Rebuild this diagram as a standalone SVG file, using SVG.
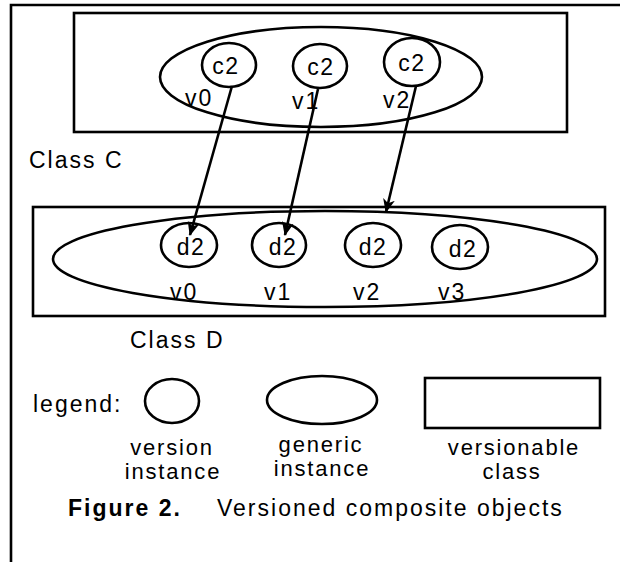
<svg xmlns="http://www.w3.org/2000/svg" width="620" height="562" viewBox="0 0 620 562">
  <style>
    .ln { fill: none; stroke: #000; stroke-width: 2.6; }
    text { font-family: "Liberation Sans", Arial, Helvetica, sans-serif; font-size: 23px; fill: #000; letter-spacing: 2px; }
    .in { text-anchor: middle; letter-spacing: 1.5px; }
    .key { text-anchor: middle; font-size: 22px; letter-spacing: 1.8px; }
    .conn { fill: none; stroke: #000; stroke-width: 2.6; marker-end: url(#head); }
  </style>
  <defs>
    <marker id="head" viewBox="0 0 14 12" refX="13" refY="6" markerWidth="14" markerHeight="12" markerUnits="userSpaceOnUse" orient="auto">
      <path d="M0,0 L14,6 L0,12 L4,6 Z" fill="#000"/>
    </marker>
  </defs>
  <rect width="620" height="562" fill="#fff"/>

  <!-- page frame (left and top edges) -->
  <path class="ln" d="M11,562 L11,5 L620,5"/>

  <!-- Class C: versionable class with generic instance and three versions -->
  <g id="classC">
    <rect class="ln" x="74" y="13" width="493" height="119"/>
    <ellipse class="ln" cx="321" cy="77" rx="161" ry="50"/>
    <text x="29" y="168">Class C</text>
  </g>
  <g id="c2v0">
    <ellipse class="ln" cx="229" cy="65" rx="27" ry="22"/>
    <text class="in" x="226" y="74">c2</text>
    <text x="185" y="106">v0</text>
  </g>
  <g id="c2v1">
    <ellipse class="ln" cx="320" cy="66" rx="27" ry="22"/>
    <text class="in" x="321" y="75">c2</text>
    <text x="292" y="109">v1</text>
  </g>
  <g id="c2v2">
    <ellipse class="ln" cx="412" cy="62" rx="28" ry="24"/>
    <text class="in" x="412" y="71">c2</text>
    <text x="383" y="108">v2</text>
  </g>

  <!-- Class D: versionable class with generic instance and four versions -->
  <g id="classD">
    <rect class="ln" x="33" y="207" width="572" height="109"/>
    <ellipse class="ln" cx="325" cy="259" rx="272" ry="48"/>
    <text x="130" y="348">Class D</text>
  </g>
  <g id="d2v0">
    <ellipse class="ln" cx="189" cy="245" rx="28" ry="22"/>
    <text class="in" x="191" y="255">d2</text>
    <text x="170" y="300">v0</text>
  </g>
  <g id="d2v1">
    <ellipse class="ln" cx="279" cy="245" rx="27" ry="22"/>
    <text class="in" x="283" y="255">d2</text>
    <text x="264" y="300">v1</text>
  </g>
  <g id="d2v2">
    <ellipse class="ln" cx="373" cy="245" rx="28" ry="22"/>
    <text class="in" x="373" y="255">d2</text>
    <text x="353" y="300">v2</text>
  </g>
  <g id="d2v3">
    <ellipse class="ln" cx="460" cy="247" rx="28" ry="22"/>
    <text class="in" x="463" y="257">d2</text>
    <text x="438" y="300">v3</text>
  </g>

  <!-- references from versions of C to D -->
  <g id="connectors">
    <line class="conn" x1="232" y1="86" x2="190" y2="235"/>
    <line class="conn" x1="318" y1="89" x2="285" y2="235"/>
    <line class="conn" x1="416" y1="86" x2="386" y2="212"/>
  </g>

  <!-- legend -->
  <g id="legend">
    <text x="33" y="412">legend:</text>
    <ellipse class="ln" cx="172" cy="401" rx="27" ry="22"/>
    <ellipse class="ln" cx="322" cy="400" rx="55" ry="24"/>
    <rect class="ln" x="425" y="378" width="175" height="50"/>
    <text class="key" x="172" y="455">version</text>
    <text class="key" x="173" y="479">instance</text>
    <text class="key" x="321" y="452">generic</text>
    <text class="key" x="322" y="476">instance</text>
    <text class="key" x="514" y="455">versionable</text>
    <text class="key" x="512" y="479">class</text>
  </g>

  <!-- caption -->
  <g id="caption">
    <text x="68" y="516" font-weight="bold" letter-spacing="0.6">Figure 2.</text>
    <text x="217" y="516" font-size="24" letter-spacing="1.7">Versioned composite objects</text>
  </g>
</svg>
